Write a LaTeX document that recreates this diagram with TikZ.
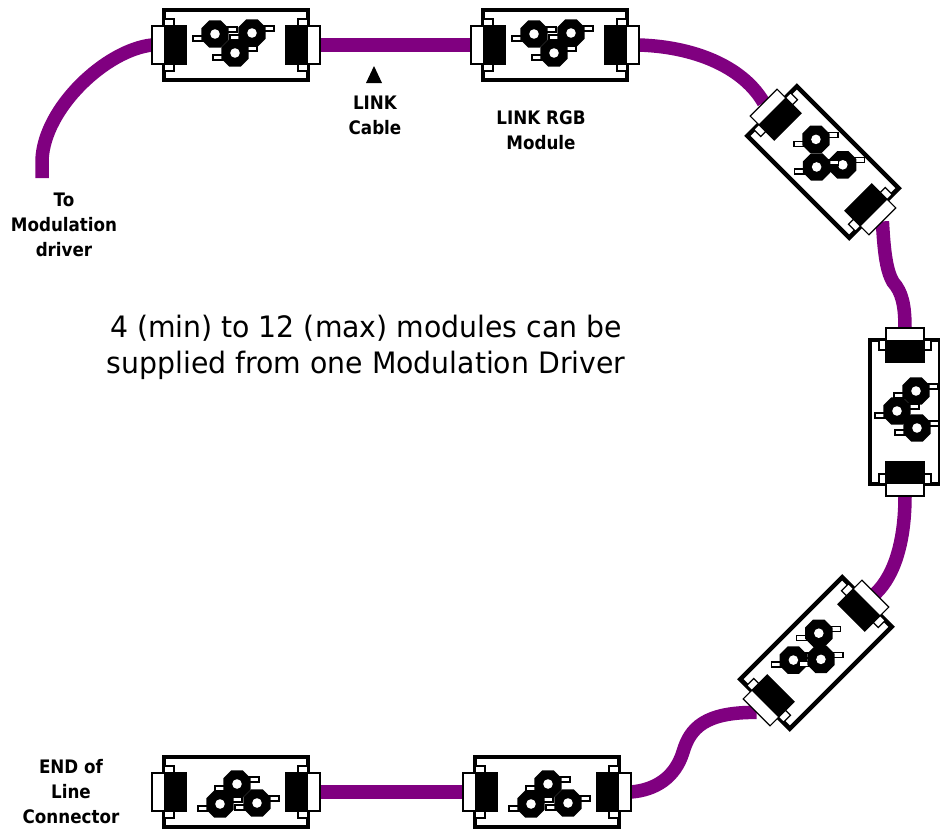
\documentclass[tikz,border=0pt]{standalone}
\usepackage{fontspec}
\setmainfont{DejaVu Sans}
\newfontfamily\lblfont{DejaVu Sans}[FakeStretch=0.9]
\newfontfamily\txtfont{DejaVu Sans}[FakeStretch=0.96]
\usetikzlibrary{backgrounds}
\definecolor{cablepurple}{RGB}{128,0,128}
\tikzset{
  cable/.style={draw=cablepurple, line width=13.5pt},
  lbl/.style={font=\lblfont\bfseries\fontsize{18.6}{25}\selectfont, align=center, inner sep=0pt},
  note/.style={font=\txtfont\fontsize{29.5}{36}\selectfont, align=center, inner sep=0pt},
  thinbox/.style={draw=black, fill=white, line width=1.2pt},
  nut/.pic={
    \filldraw[thinbox] (-22,2) rectangle (-9,7);
    \filldraw[thinbox] (9,-7) rectangle (22,-2);
    \fill[black] (22.5:14.8) -- (67.5:14.8) -- (112.5:14.8) -- (157.5:14.8) -- (202.5:14.8)
      -- (247.5:14.8) -- (292.5:14.8) -- (337.5:14.8) -- cycle;
    \fill[white] (0,0) circle (4.8);
  },
  module/.pic={
    \filldraw[draw=black, fill=white, line width=4.5pt] (-72,-35) rectangle (72,35);
    \foreach \s in {-1,1}{
      \filldraw[thinbox] (\s*84,-19) rectangle (\s*50,19);
      \fill[black] (\s*72,-19) rectangle (\s*50,19);
      \filldraw[thinbox] (\s*72,-26) rectangle (\s*62,-19);
      \filldraw[thinbox] (\s*72,19) rectangle (\s*62,26);
    }
    \pic at (-21,-11) {nut};
    \pic at (16,-12) {nut};
    \pic at (-1,8) {nut};
    \coordinate (-a) at (-84,0);
    \coordinate (-b) at (84,0);
  }
}
\begin{document}
\begin{tikzpicture}[x=1pt, y=-1pt]
\useasboundingbox (0,0) rectangle (940,830);

% modules
\pic (m1) at (236,45) {module};
\pic (m2) at (555,45) {module};
\pic[rotate=-45] (m3) at (823,162) {module};
\pic[rotate=-90] (m4) at (905,412) {module};
\pic[rotate=45] (m5) at (816,653) {module};
\pic[rotate=180] (m6) at (547,792) {module};
\pic[rotate=180] (m7) at (236,792) {module};

% cables
\coordinate (drv) at (42,178);
\begin{scope}[on background layer]
  \fill[white] (0,0) rectangle (940,830);
  \draw[cable] (drv) -- (42,160) .. controls (44,108) and (106,50) .. (m1-a);
  \draw[cable] (m1-b) -- (m2-a);
  \draw[cable] (m2-b) .. controls (700,47) and (745,70) .. (m3-a);
  \draw[cable] (m3-b) .. controls (884,250) and (886,270) .. (893,282)
               .. controls (902,292) and (905,305) .. (m4-a);
  \draw[cable] (m4-b) .. controls (905,540) and (895,575) .. (m5-b);
  \draw[cable] (m5-a) .. controls (705,712) and (690,728) .. (683,752)
               .. controls (675,778) and (655,790) .. (m6-a);
  \draw[cable] (m6-b) -- (m7-a);
\end{scope}

% pointer triangle
\fill[black] (374,66) -- (382,83) -- (366,83) -- cycle;

% labels
\node[lbl] (drvlbl) at (64,225) {To\\Modulation\\driver};
\node[lbl] (cablelbl) at (375,115) {LINK\\Cable};
\node[lbl] (modlbl) at (541,130) {LINK RGB\\Module};
\node[lbl] (endlbl) at (71,792) {END of\\Line\\Connector};
\node[note] (notelbl) at (366,347) {4 (min) to 12 (max) modules can be\\supplied from one Modulation Driver};
\end{tikzpicture}
\end{document}
